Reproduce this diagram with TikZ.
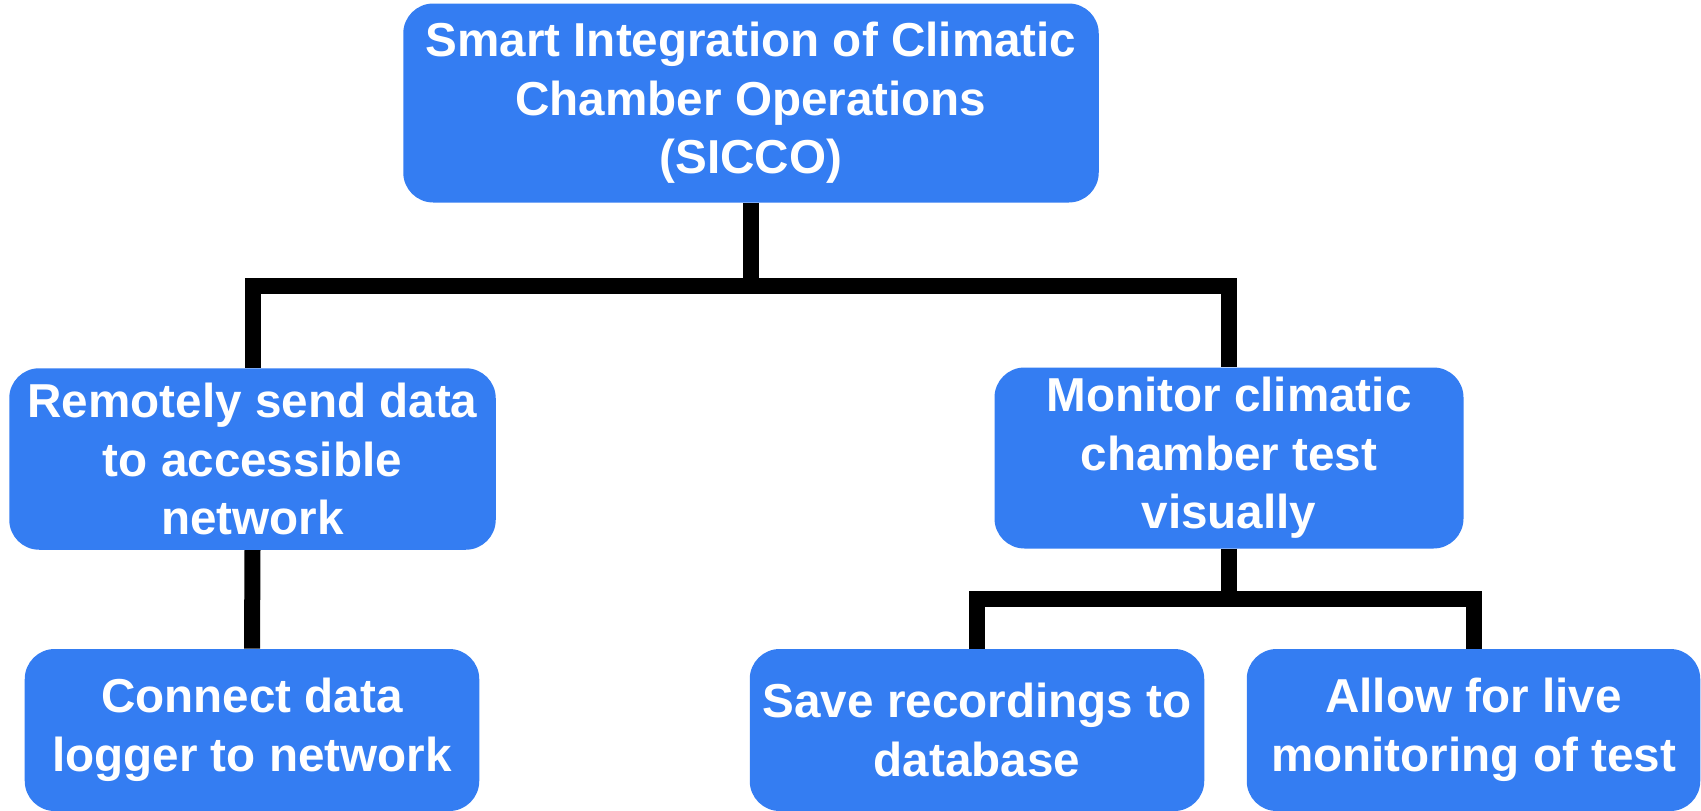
\documentclass[tikz,border=0pt]{standalone}
\usepackage{fontspec}
\setmainfont{Liberation Sans}
\usepackage{tikz}
\usetikzlibrary{positioning}
\definecolor{boxblue}{RGB}{52,125,242}

\begin{document}
\begin{tikzpicture}[
        goal/.style={fill=boxblue, text=white, rounded corners=0.6cm, align=center, inner sep=2pt,
            font=\fontsize{27.1}{33.3}\selectfont\bfseries},
        link/.style={line width=0.32cm, line join=miter}
    ]
        \useasboundingbox (0,0) rectangle (34.02,-16.22);
        % top level
        \node[goal, minimum width=13.91cm, minimum height=3.98cm] (sicco) at (15.02,-2.06)
            {Smart Integration of Climatic\\Chamber Operations\\(SICCO)};
        % second level
        \node[goal, minimum width=9.73cm, minimum height=3.63cm] (send) at (5.05,-9.18)
            {Remotely send data\\to accessible\\network};
        \node[goal, minimum width=9.38cm, minimum height=3.62cm] (monitor) at (24.58,-9.16)
            {Monitor climatic\\chamber test\\visually};
        % third level
        \node[goal, minimum width=9.09cm, minimum height=3.24cm] (logger) at (5.04,-14.60)
            {Connect data\\logger to network};
        \node[goal, minimum width=9.09cm, minimum height=3.24cm] (save) at (19.54,-14.60)
            {Save recordings to\\database};
        \node[goal, minimum width=9.07cm, minimum height=3.24cm] (live) at (29.47,-14.60)
            {Allow for live\\monitoring of test};
        % connectors
        \draw[link] (sicco.south) -- ++(0,-1.66) -| (send.north);
        \draw[link] (sicco.south) -- ++(0,-1.66) -| (monitor.north);
        \draw[link] (send.south) -- (logger.north);
        \draw[link] (monitor.south) -- ++(0,-1.0) -| (save.north);
        \draw[link] (monitor.south) -- ++(0,-1.0) -| (live.north);
    \end{tikzpicture}
\end{document}
